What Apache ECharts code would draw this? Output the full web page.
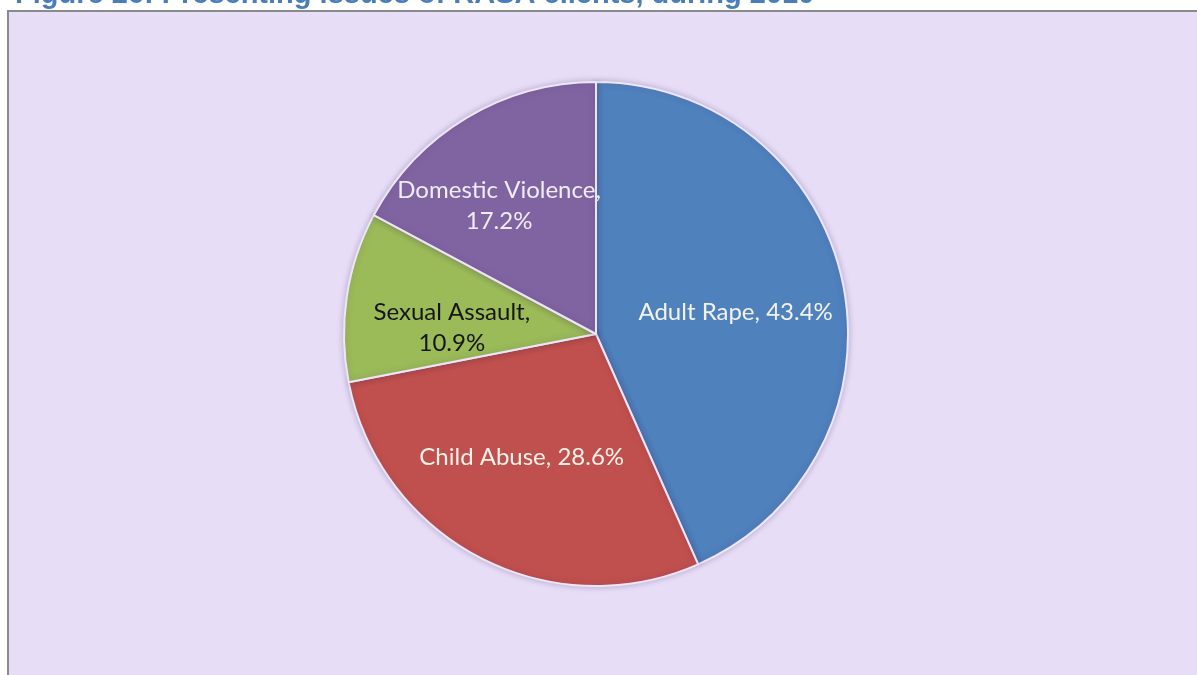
<!DOCTYPE html>
<html>
<head>
<meta charset="utf-8">
<script src="https://cdn.jsdelivr.net/npm/echarts@6/dist/echarts.min.js"></script>
<style>
html,body{margin:0;padding:0;background:#ffffff;width:1197px;height:675px;overflow:hidden;}
#frame{position:absolute;left:7px;top:10px;width:1200px;height:680px;background:#e7ddf7;border:2px solid #8a8a8a;box-sizing:border-box;}
#chart{position:absolute;left:0;top:0;width:1197px;height:675px;}
</style>
</head>
<body>
<div id="frame"></div>
<div id="chart"></div>
<script>
const titleText = 'Figure 26: Presenting issues of RASA clients, during 2010';
const categories = ['Adult Rape', 'Child Abuse', 'Sexual Assault', 'Domestic Violence'];
const values = [43.4, 28.6, 10.9, 17.2];
const colors = ['#4f81bd', '#c0504d', '#9bbb59', '#8064a2'];
const labelColors = ['#f2f2ea', '#f2f2ea', '#161616', '#f0ecf4'];
// label nudges (style only)
const labelNudge = [[-3, 8], [-7, -6], [0, 15], [-22, -3]];

const center = [596, 334];
const radius = 252;

const chart = echarts.init(document.getElementById('chart'), null, {renderer: 'canvas'});
chart.setOption({
  backgroundColor: 'transparent',
  animation: false,
  title: {
    text: titleText,
    left: 15,
    top: -20,
    padding: 0,
    textStyle: {fontFamily: 'Liberation Sans, Arial', fontWeight: 'bold', fontSize: 29, color: '#4a7ebb'}
  },
  series: [{
    type: 'pie',
    center: center,
    radius: radius,
    startAngle: 90,
    clockwise: true,
    data: categories.map((n, i) => ({
      name: n,
      value: values[i],
      itemStyle: {color: colors[i]},
      label: {color: labelColors[i]}
    })),
    itemStyle: {
      borderColor: '#ece6f8',
      borderWidth: 2,
      shadowBlur: 6,
      shadowColor: 'rgba(60,40,90,0.25)'
    },
    label: {
      position: 'inside',
      fontFamily: 'Lato, Open Sans, sans-serif',
      fontSize: 24,
      lineHeight: 31,
      align: 'center',
      formatter: p => p.name.length > 12 ? p.name + ',\n' + p.value + '%' : p.name + ', ' + p.value + '%'
    },
    labelLayout: function (p) {
      const r = p.labelRect;
      const cx = r.x + r.width / 2, cy = r.y + r.height / 2;
      const n = labelNudge[p.dataIndex];
      return {dx: (cx - center[0]) * 0.13 + n[0], dy: (cy - center[1]) * 0.13 + n[1]};
    },
    labelLine: {show: false},
    emphasis: {disabled: true}
  }]
});
</script>
</body>
</html>
